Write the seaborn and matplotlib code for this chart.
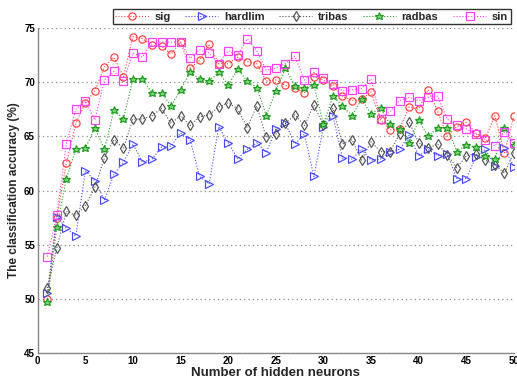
import numpy as np
import pandas as pd
import matplotlib
matplotlib.use("Agg")
import matplotlib.pyplot as plt
import seaborn as sns

# Number of hidden neurons
neurons = list(range(1, 51))

# Classification accuracy (%) per activation function
sig = [50.0, 57.5, 62.5, 66.2, 68.1, 69.2, 71.4, 72.3, 70.5, 74.2,
       74.0, 73.4, 73.3, 72.6, 73.7, 71.3, 72.0, 73.5, 71.7, 71.7,
       72.3, 71.9, 71.7, 70.1, 70.2, 69.7, 69.5, 69.0, 70.5, 70.2,
       69.6, 68.7, 68.3, 68.4, 69.1, 66.5, 65.6, 65.7, 67.7, 67.5,
       69.3, 67.3, 65.0, 65.9, 66.3, 65.3, 64.8, 66.9, 63.5, 66.9]
hardlim = [50.5, 57.6, 56.5, 55.8, 61.8, 60.9, 59.1, 61.5, 62.6, 64.3,
           62.6, 62.9, 64.0, 64.1, 65.3, 64.7, 61.3, 60.6, 65.9, 64.4,
           62.9, 63.8, 64.4, 63.5, 65.7, 66.2, 64.3, 65.2, 61.3, 65.9,
           66.9, 63.0, 62.9, 63.8, 62.8, 62.9, 63.6, 63.8, 65.1, 63.2,
           63.8, 63.2, 63.4, 61.1, 61.1, 63.1, 63.8, 62.3, 63.9, 62.2]
tribas = [51.0, 54.7, 58.1, 57.7, 58.6, 60.3, 63.0, 64.7, 63.9, 66.6,
          66.6, 66.9, 67.6, 66.2, 66.9, 66.0, 66.8, 67.0, 67.7, 68.1,
          67.5, 65.8, 67.8, 64.9, 65.2, 66.2, 67.0, 66.0, 67.9, 66.0,
          67.6, 64.3, 64.7, 62.8, 64.5, 63.6, 63.6, 65.2, 66.3, 64.4,
          63.9, 64.3, 63.3, 62.1, 63.2, 63.4, 62.8, 62.4, 61.6, 63.5]
radbas = [49.7, 56.6, 61.1, 63.8, 63.9, 65.8, 63.8, 67.4, 66.6, 70.3,
          70.3, 69.0, 69.0, 67.8, 69.3, 70.9, 70.3, 70.1, 70.9, 69.7,
          71.2, 70.1, 69.5, 66.9, 69.2, 71.3, 69.6, 69.5, 69.7, 66.1,
          68.7, 67.8, 66.9, 68.4, 67.1, 67.6, 66.1, 65.7, 64.4, 66.5,
          65.0, 65.8, 65.8, 63.6, 64.2, 64.0, 63.2, 62.9, 65.8, 64.2]
sin = [53.9, 57.7, 64.3, 67.5, 68.3, 66.5, 70.2, 71.0, 70.1, 72.7,
       72.3, 73.7, 73.7, 73.7, 73.7, 72.2, 73.0, 72.7, 71.7, 72.9,
       72.5, 74.0, 72.9, 71.1, 71.3, 71.7, 72.4, 70.2, 70.9, 70.4,
       69.8, 69.2, 69.3, 69.4, 70.3, 66.6, 67.3, 68.3, 68.6, 68.3,
       68.6, 68.7, 66.6, 66.0, 65.7, 65.2, 64.7, 64.1, 65.4, 64.4]

series_names = ["sig", "hardlim", "tribas", "radbas", "sin"]
series_values = [sig, hardlim, tribas, radbas, sin]
colors = ["#ff3b3b", "#4646ff", "#505050", "#1f9a1f", "#ff3cff"]
markers = ["o", ">", "d", "*", "s"]
marker_sizes = [5.2, 5.2, 5.2, 6.2, 5.2]

x_ticks = list(range(0, 51, 5))
y_ticks = list(range(45, 76, 5))

sns.set_theme(style="white")
plt.rcParams["font.family"] = ["Liberation Sans", "DejaVu Sans"]
plt.rcParams["font.weight"] = "bold"

fig, ax = plt.subplots(figsize=(5.17, 3.78), dpi=100)
fig.subplots_adjust(left=0.073, right=0.994, top=0.926, bottom=0.066)

frame = pd.DataFrame({"neurons": neurons})
for name, vals, c, m, ms in zip(series_names, series_values, colors, markers, marker_sizes):
    frame[name] = vals
    sns.lineplot(data=frame, x="neurons", y=name, ax=ax, color=c,
                 linestyle=":", linewidth=0.8, marker=m, markersize=ms,
                 markerfacecolor="none" if m != "*" else "#7fd27f",
                 markeredgecolor=c, markeredgewidth=0.85, label=name,
                 legend=False)

ax.set_xlim(0, 50)
ax.set_ylim(45, 75)
ax.set_xticks(x_ticks)
ax.set_yticks(y_ticks)
ax.tick_params(axis="both", direction="in", length=3, width=0.8,
               labelsize=7, colors="#333333", pad=2)
for lbl in ax.get_xticklabels() + ax.get_yticklabels():
    lbl.set_fontweight("bold")
    lbl.set_color("black")

ax.yaxis.grid(True, linestyle=(0, (1, 2.5)), color="#888888", linewidth=0.9)
ax.xaxis.grid(False)
for side in ["top", "right"]:
    ax.spines[side].set_visible(False)
for side in ["left", "bottom"]:
    ax.spines[side].set_color("#888888")
    ax.spines[side].set_linewidth(1.0)

ax.set_xlabel("Number of hidden neurons", fontsize=9.5, fontweight="bold", labelpad=1)
ax.set_ylabel("The classification accuracy (%)", fontsize=8.5, fontweight="bold", labelpad=3)

handles, labels = ax.get_legend_handles_labels()
leg = fig.legend(handles, labels, loc="center", bbox_to_anchor=(0.603, 0.956),
                 ncol=5, frameon=True, fancybox=False,
                 handlelength=3.0, columnspacing=1.3, handletextpad=0.5,
                 borderpad=0.25, prop={"weight": "bold", "size": 8})
leg.get_frame().set_edgecolor("black")
leg.get_frame().set_linewidth(1.0)

fig.savefig("out.png", dpi=100)
